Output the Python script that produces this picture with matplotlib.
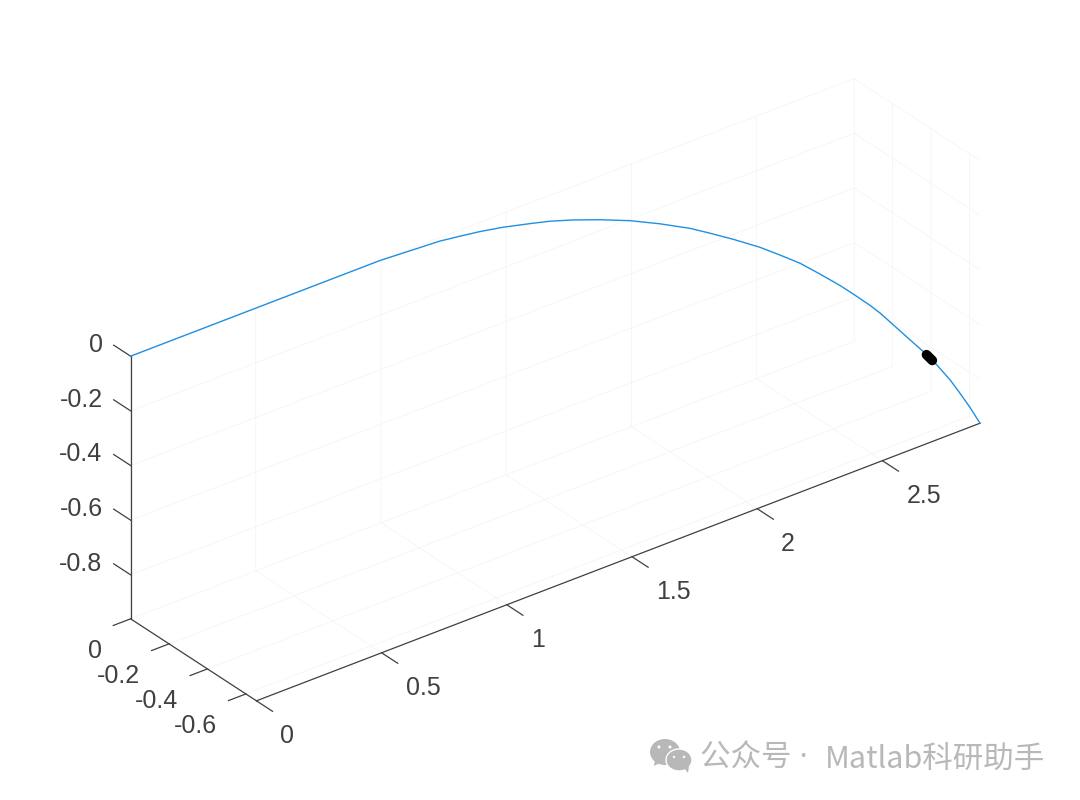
import matplotlib
matplotlib.use("Agg")
import matplotlib.pyplot as plt
from matplotlib.patches import Ellipse, Polygon
from mpl_toolkits.mplot3d import proj3d

plt.rcParams['font.family'] = ['Liberation Sans', 'DejaVu Sans']

# Trajectory
x_vals = [0, 0.264, 0.496, 0.744, 0.994, 1.228, 1.306, 1.381, 1.468, 1.564, 1.635, 1.714,
          1.809, 1.911, 2.010, 2.109, 2.173, 2.246, 2.329, 2.389, 2.448, 2.505, 2.562,
          2.602, 2.643, 2.670, 2.704, 2.746, 2.779, 2.812, 2.840, 2.858, 2.875, 2.89]
y_vals = [0, 0, 0, 0, 0, -0.0066, -0.0118, -0.0183, -0.0262, -0.0406, -0.0524, -0.0681,
          -0.0852, -0.1094, -0.1356, -0.1638, -0.1834, -0.2083, -0.2404, -0.2666, -0.2948,
          -0.3242, -0.3537, -0.3799, -0.4041, -0.4212, -0.4454, -0.4782, -0.5044, -0.5319,
          -0.5646, -0.5928, -0.6223, -0.655]
z_vals = [0, 0, 0, 0, 0, -0.0081, -0.0147, -0.0212, -0.0321, -0.0461, -0.0568, -0.0729,
          -0.0975, -0.1258, -0.16, -0.1986, -0.2297, -0.2661, -0.31, -0.3475, -0.3856,
          -0.4317, -0.4798, -0.5175, -0.5578, -0.5874, -0.6314, -0.6862, -0.7289, -0.7766,
          -0.8266, -0.869, -0.9131, -0.961]

# Short black marker segment on the curve
mark_x = [2.787, 2.801]
mark_y = [-0.5108, -0.5226]
mark_z = [-0.7402, -0.7606]

x_ticks = [0, 0.5, 1, 1.5, 2, 2.5]
x_labels = ['0', '0.5', '1', '1.5', '2', '2.5']
y_ticks = [0, -0.2, -0.4, -0.6]
y_labels = ['0', '-0.2', '-0.4', '-0.6']
z_ticks = [0, -0.2, -0.4, -0.6, -0.8]
z_labels = ['0', '-0.2', '-0.4', '-0.6', '-0.8']
x_lim = (0, 2.89)
y_lim = (-0.655, 0)
z_lim = (-0.961, 0)

AXC = '#404040'
FS = 18
fig = plt.figure(figsize=(10.8, 8.0), dpi=100, facecolor='white')
ax = fig.add_axes([144.5 / 1080, -0.5 / 800, 800 / 1080, 1], projection='3d', proj_type='ortho')
ax.view_init(elev=30, azim=-127.5)
ax.set_box_aspect((x_lim[1] - x_lim[0], y_lim[1] - y_lim[0], z_lim[1] - z_lim[0]), zoom=1.193)
ax.set_xlim(*x_lim); ax.set_ylim(*y_lim); ax.set_zlim(*z_lim)

ax.plot(x_vals, y_vals, z_vals, color='#2090E0', lw=1.0, clip_on=False)
ax.plot(mark_x, mark_y, mark_z, color='black', lw=7, solid_capstyle='round', clip_on=False)

ax.set_xticks(x_ticks)
ax.set_yticks(y_ticks)
ax.set_zticks(z_ticks)

factors = {ax.xaxis: -1.6, ax.yaxis: -0.3, ax.zaxis: 1.68}
for axis, f in factors.items():
    axis.set_pane_color((1, 1, 1, 0))
    axis.pane.set_edgecolor((1, 1, 1, 0))
    axis.line.set_color(AXC)
    axis.line.set_linewidth(0.9)
    axis._axinfo['tick']['inward_factor'] = 0
    axis._axinfo['tick']['outward_factor'] = f
    axis._axinfo['tick']['linewidth'] = {True: 0.9, False: 0.9}
    axis._axinfo['tick']['color'] = AXC
    axis._axinfo['grid']['color'] = '#f3f3f3'
    axis._axinfo['grid']['linewidth'] = 0.5
ax.zaxis._get_tickdir = lambda position: 1
ax.tick_params(axis='x', colors=AXC, labelbottom=False, labeltop=False)
ax.tick_params(axis='y', colors=AXC, labelleft=False, labelright=False)
ax.tick_params(axis='z', colors=AXC, labelleft=False, labelright=False)


def tick_text(px, py, pz, s, ha):
    """Place a label at a 3D point, projected once into the axes' 2D data space."""
    sx, sy, _ = proj3d.proj_transform(px, py, pz, ax.get_proj())
    ax.text2D(sx, sy, s, transform=ax.transData, fontsize=FS, color=AXC,
              ha=ha, va='center', clip_on=False)


# Tick labels, offset along the MATLAB tick directions
for v, s in zip(x_ticks, x_labels):
    tick_text(v, y_lim[0] - 0.125, z_lim[0] - 0.072, s, 'left')
for v, s in zip(y_ticks, y_labels):
    tick_text(x_lim[0] - 0.116, v, z_lim[0] - 0.076, s, 'right')
for v, s in zip(z_ticks, z_labels):
    tick_text(x_lim[0], y_lim[1] + 0.146, v - 0.026, s, 'right')

# Watermark
ov = fig.add_axes([0, 0, 1, 1], facecolor='none')
ov.set_xlim(0, 1080); ov.set_ylim(800, 0)
ov.set_xticks([]); ov.set_yticks([])
ov.axis('off')
G = '#b8b8b8'
ov.add_patch(Ellipse((665, 752), 30, 26, color=G, lw=0))
ov.add_patch(Polygon([[655, 760], [654, 766], [662, 762]], color=G, lw=0))
ov.add_patch(Ellipse((679, 760), 26, 22, facecolor=G, edgecolor='white', lw=1))
ov.add_patch(Polygon([[684, 768], [688, 773], [689, 766]], color=G, lw=0))
for cx, cy, r in [(659, 747, 3), (670, 747, 3), (674, 757, 2.4), (684, 757, 2.4)]:
    ov.add_patch(Ellipse((cx, cy), r, r, color='white', lw=0))
ov.text(700, 759, '公众号 ·', family=['Noto Sans', 'Noto Sans CJK SC'],
        fontsize=22, color=G, va='center', ha='left')
ov.text(1045, 759, 'Matlab科研助手', family=['Noto Sans CJK SC', 'DejaVu Sans'],
        fontsize=22, color=G, va='center', ha='right')

fig.savefig('out.png', dpi=100, facecolor='white')
